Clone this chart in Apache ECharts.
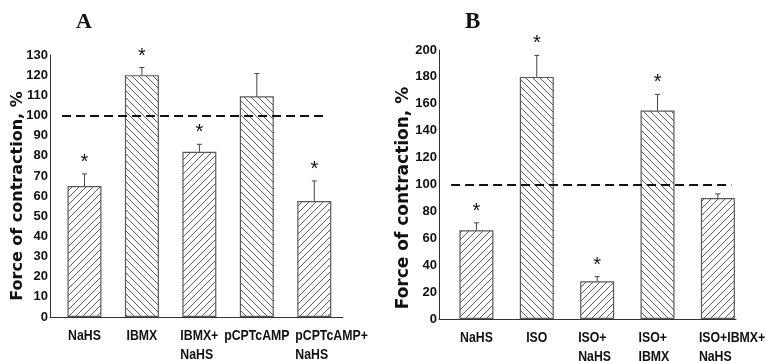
<!DOCTYPE html>
<html>
<head>
<meta charset="utf-8">
<script src="https://cdn.jsdelivr.net/npm/echarts@6/dist/echarts.min.js"></script>
<style>html,body{margin:0;padding:0;background:#fff}#c{width:766px;height:361px}</style>
</head>
<body>
<div id="c"></div>
<script>
// ---- data ----
const catsA = ['NaHS', 'IBMX', 'IBMX+\nNaHS', 'pCPTcAMP', 'pCPTcAMP+\nNaHS'];
const valsA = [65, 120, 82, 109.5, 57.5];
const errA  = [6, 3.8, 3.7, 11.3, 10];
const sigA  = [1, 1, 1, 0, 1];

const catsB = ['NaHS', 'ISO', 'ISO+\nNaHS', 'ISO+\nIBMX', 'ISO+IBMX+\nNaHS'];
const valsB = [66, 180, 28, 155, 90];
const errB  = [5.5, 16, 3.5, 12, 3];
const sigB  = [1, 1, 1, 1, 0];

const yMaxA = 130, yStepA = 10;
const yMaxB = 200, yStepB = 20;
const refLevel = 100;
const yTitle = 'Force of contraction, %';

// ---- styles ----
const SANS = "'Liberation Sans',Arial,sans-serif";
function hatch(forward) {
  const s = 7;
  const c = document.createElement('canvas');
  c.width = s; c.height = s;
  const g = c.getContext('2d');
  g.fillStyle = '#fff'; g.fillRect(0, 0, s, s);
  g.strokeStyle = '#4a4a4a'; g.lineWidth = 0.9;
  g.beginPath();
  if (forward) {
    g.moveTo(0, s); g.lineTo(s, 0);
    g.moveTo(-1, 1); g.lineTo(1, -1);
    g.moveTo(s - 1, s + 1); g.lineTo(s + 1, s - 1);
  } else {
    g.moveTo(0, 0); g.lineTo(s, s);
    g.moveTo(-1, s - 1); g.lineTo(1, s + 1);
    g.moveTo(s - 1, -1); g.lineTo(s + 1, 1);
  }
  g.stroke();
  return { image: c, repeat: 'repeat' };
}
const patFwd = hatch(true), patBack = hatch(false);

function panel(idx, cats, vals, errs, sig, refFrom, refTo) {
  const series = [];
  // bars
  series.push({
    type: 'bar', xAxisIndex: idx, yAxisIndex: idx, barWidth: 34,
    data: vals.map((v, i) => ({
      value: [i, v],
      itemStyle: { color: cats[i].indexOf('NaHS') >= 0 ? patFwd : patBack }
    })),
    itemStyle: { borderColor: '#5a5a5a', borderWidth: 1.2 },
    markLine: {
      silent: true, symbol: 'none', label: { show: false },
      lineStyle: { color: '#111', width: 2, type: [9, 5] },
      data: [[{ coord: [refFrom, refLevel] }, { coord: [refTo, refLevel] }]]
    },
    z: 2
  });
  // error bars
  series.push({
    type: 'custom', xAxisIndex: idx, yAxisIndex: idx, clip: false, z: 3,
    encode: { x: 0, y: [1, 2] },
    data: vals.map((v, i) => [i, v, v + errs[i]]),
    renderItem: function (params, api) {
      const i = api.value(0);
      const p0 = api.coord([i, api.value(1)]);
      const p1 = api.coord([i, api.value(2)]);
      return {
        type: 'group', children: [
          { type: 'polyline', shape: { points: [[p0[0], p0[1]], [p1[0], p1[1]]] }, style: { stroke: '#444', lineWidth: 1, fill: null } },
          { type: 'polyline', shape: { points: [[p1[0] - 2.5, p1[1]], [p1[0] + 2.5, p1[1]]] }, style: { stroke: '#444', lineWidth: 1, fill: null } }
        ]
      };
    }
  });
  // significance asterisks
  series.push({
    type: 'custom', xAxisIndex: idx, yAxisIndex: idx, clip: false, z: 3,
    encode: { x: 0, y: 1 },
    data: vals.map((v, i) => [i, v + errs[i], sig[i]]),
    renderItem: function (params, api) {
      if (!api.value(2)) return null;
      const p = api.coord([api.value(0), api.value(1)]);
      return { type: 'text', x: p[0], y: p[1] - 11.5,
        style: { text: '*', fontSize: 20, fontFamily: SANS, fill: '#111', align: 'center', verticalAlign: 'middle' } };
    }
  });
  // category labels
  series.push({
    type: 'custom', xAxisIndex: idx, yAxisIndex: idx, clip: false, z: 3,
    encode: { x: 0, y: 1 },
    data: cats.map((c, i) => [i, 0]),
    renderItem: function (params, api) {
      const p = api.coord([api.value(0), 0]);
      const txt = cats[params.dataIndex];
      const multi = txt.indexOf('\n') >= 0;
      return { type: 'text', x: multi ? p[0] - 19 : p[0], y: p[1] + 10, scaleX: 0.82,
        style: { text: txt, fontSize: 15, fontWeight: 'bold', fontFamily: SANS, fill: '#111',
          align: multi ? 'left' : 'center', verticalAlign: 'top', lineHeight: 18.5 } };
    }
  });
  return series;
}

const chart = echarts.init(document.getElementById('c'), null, { renderer: 'canvas' });
const yAxisCommon = {
  type: 'value', min: 0,
  axisLine: { show: true, onZero: false, lineStyle: { color: '#333', width: 1 } },
  axisTick: { show: false }, splitLine: { show: false },
  axisLabel: { margin: 2, fontSize: 13, fontWeight: 'bold', fontFamily: SANS, color: '#111' }
};
const xAxisCommon = {
  type: 'value', axisLine: { show: true, onZero: false, lineStyle: { color: '#333', width: 1 } },
  axisTick: { show: false }, splitLine: { show: false }, axisLabel: { show: false }
};
chart.setOption({
  animation: false,
  backgroundColor: '#fff',
  title: [
    { text: 'A', left: 71, top: 6, textStyle: { fontFamily: "'Liberation Serif','Times New Roman',serif", fontWeight: 'bold', fontSize: 22, color: '#111' } },
    { text: 'B', left: 460, top: 6, textStyle: { fontFamily: "'Liberation Serif','Times New Roman',serif", fontWeight: 'bold', fontSize: 23, color: '#111' } }
  ],
  graphic: [
    { type: 'text', x: 18, y: 196, rotation: Math.PI / 2,
      style: { text: yTitle, fontSize: 16, fontWeight: 'bold', fontFamily: "'DejaVu Sans',sans-serif", fill: '#111', align: 'center', verticalAlign: 'middle' } },
    { type: 'text', x: 404, y: 198, rotation: Math.PI / 2,
      style: { text: yTitle, fontSize: 17, fontWeight: 'bold', fontFamily: "'DejaVu Sans',sans-serif", fill: '#111', align: 'center', verticalAlign: 'middle' } }
  ],
  grid: [
    { left: 50, top: 55, width: 293, height: 262 },
    { left: 439, top: 50, width: 297, height: 269 }
  ],
  xAxis: [
    Object.assign({ gridIndex: 0, min: -0.6, max: 4.5 }, xAxisCommon),
    Object.assign({ gridIndex: 1, min: -0.62, max: 4.3 }, xAxisCommon)
  ],
  yAxis: [
    Object.assign({ gridIndex: 0, max: yMaxA, interval: yStepA }, yAxisCommon),
    Object.assign({ gridIndex: 1, max: yMaxB, interval: yStepB }, yAxisCommon)
  ],
  series: [].concat(
    panel(0, catsA, valsA, errA, sigA, -0.39, 4.19),
    panel(1, catsB, valsB, errB, sigB, -0.42, 4.225)
  )
});
</script>
</body>
</html>
